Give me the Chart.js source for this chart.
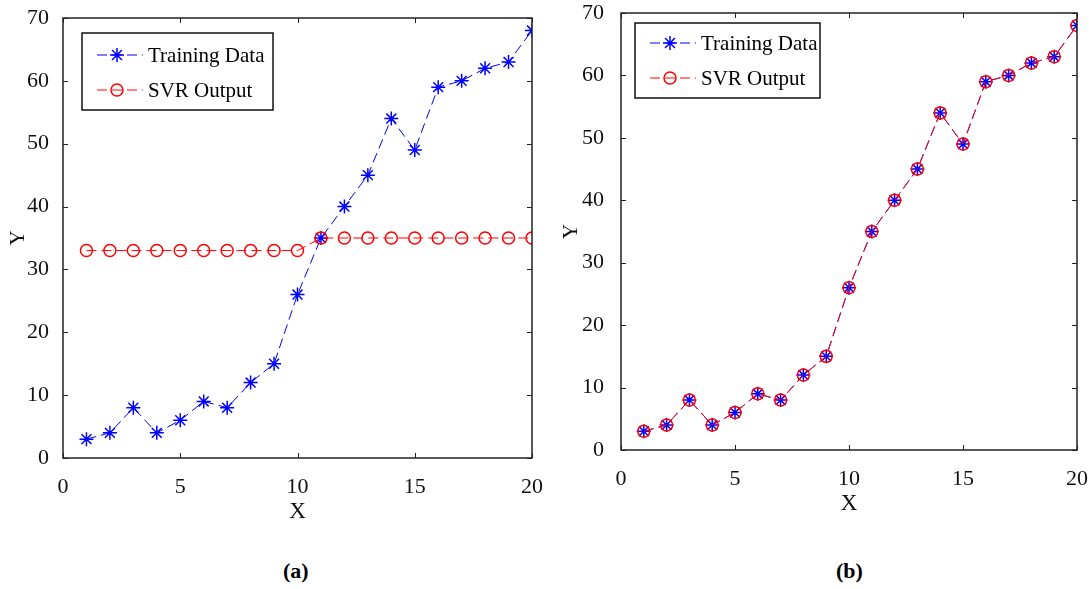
<!DOCTYPE html>
<html>
<head>
<meta charset="utf-8">
<script src="https://cdn.jsdelivr.net/npm/chart.js@4.4.0/dist/chart.umd.min.js"></script>
<style>
  body { margin: 0; background: #fff; width: 1089px; height: 589px; position: relative; overflow: hidden; }
  .box { position: absolute; top: 0; }
  .cap { position: absolute; top: 558px; font: bold 22px 'Liberation Serif', serif; color: #000; }
</style>
</head>
<body>
<div class="box" style="left:0;width:545px;height:530px"><canvas id="chart-a"></canvas></div>
<div class="box" style="left:545px;width:544px;height:522px"><canvas id="chart-b"></canvas></div>
<div class="cap" style="left:283px">(a)</div>
<div class="cap" style="left:836px">(b)</div>
<script>
var xValues = [1,2,3,4,5,6,7,8,9,10,11,12,13,14,15,16,17,18,19,20];
var trainingY = [3,4,8,4,6,9,8,12,15,26,35,40,45,54,49,59,60,62,63,68];
var svrOutA = [33,33,33,33,33,33,33,33,33,33,35,35,35,35,35,35,35,35,35,35];
var svrOutB = [3,4,8,4,6,9,8,12,15,26,35,40,45,54,49,59,60,62,63,68];
var xTicks = [0,5,10,15,20];
var yTicks = [0,10,20,30,40,50,60,70];

var serif = "'Liberation Serif', 'Times New Roman', serif";
var dash = [10,5];

function punti(ys) {
    var out = [];
    for (var i = 0; i < xValues.length; i++) {
        out.push({x: xValues[i], y: ys[i]});
    }
    return out;
}

// frame round the plot area plus inward ticks on all four sides
var cornice = {
    id: 'cornice',
    afterDraw: function(chart) {
        var ctx = chart.ctx, a = chart.chartArea;
        var sx = chart.scales.x, sy = chart.scales.y;
        ctx.save();
        ctx.strokeStyle = '#222';
        ctx.lineWidth = 1.5;
        ctx.strokeRect(a.left, a.top, a.right - a.left, a.bottom - a.top);
        ctx.lineWidth = 1;
        ctx.beginPath();
        xTicks.forEach(function(v) {
            var px = Math.round(sx.getPixelForValue(v)) + 0.5;
            ctx.moveTo(px, a.bottom); ctx.lineTo(px, a.bottom - 5);
            ctx.moveTo(px, a.top); ctx.lineTo(px, a.top + 5);
        });
        yTicks.forEach(function(v) {
            var py = Math.round(sy.getPixelForValue(v)) + 0.5;
            ctx.moveTo(a.left, py); ctx.lineTo(a.left + 5, py);
            ctx.moveTo(a.right, py); ctx.lineTo(a.right - 5, py);
        });
        ctx.stroke();
        ctx.restore();
    }
};

// boxed legend inside the plot, MATLAB style
var legenda = {
    id: 'legenda',
    afterDraw: function(chart, args, opt) {
        var ctx = chart.ctx, a = chart.chartArea;
        var x0 = a.left + opt.dx, y0 = a.top + opt.dy;
        ctx.save();
        ctx.fillStyle = '#fff';
        ctx.fillRect(x0, y0, opt.w, opt.h);
        ctx.strokeStyle = '#111';
        ctx.lineWidth = 1.5;
        ctx.strokeRect(x0, y0, opt.w, opt.h);
        chart.data.datasets.forEach(function(ds, i) {
            var yy = y0 + opt.row0 + i * opt.step;
            var xa = x0 + 15, xb = x0 + 61, xm = x0 + 35;
            ctx.strokeStyle = ds.borderColor;
            ctx.lineWidth = 1;
            ctx.setLineDash(dash);
            ctx.beginPath();
            ctx.moveTo(xa, yy); ctx.lineTo(xb, yy);
            ctx.stroke();
            ctx.setLineDash([]);
            ctx.strokeStyle = ds.pointBorderColor;
            ctx.fillStyle = 'rgba(0,0,0,0)';
            ctx.lineWidth = ds.pointBorderWidth;
            Chart.helpers.drawPoint(ctx, {
                pointStyle: ds.pointStyle,
                radius: ds.pointRadius,
                borderWidth: ds.pointBorderWidth,
                rotation: 0
            }, xm, yy);
            ctx.fillStyle = '#000';
            ctx.font = '21px ' + serif;
            ctx.textBaseline = 'middle';
            ctx.fillText(ds.label, x0 + 66, yy + 1);
        });
        ctx.restore();
    }
};

function serie(label, ys, colore, stile, raggio, ordine) {
    return {
        label: label,
        data: punti(ys),
        borderColor: colore,
        borderWidth: 1,
        borderDash: dash,
        pointStyle: stile,
        pointRadius: raggio,
        pointBorderColor: colore,
        pointBackgroundColor: 'rgba(0,0,0,0)',
        pointBorderWidth: 1.5,
        fill: false,
        tension: 0,
        order: ordine
    };
}

function stampaGrafico(id, svr, areaLeft, areaTop, padRight, yPad, titlePad, leg) {
    var ctx = document.getElementById(id);
    return new Chart(ctx, {
        type: 'line',
        data: {
            datasets: [
                serie('Training Data', trainingY, '#0000ff', 'star', 7, 2),
                serie('SVR Output', svr, '#ff0000', 'circle', 6, 1)
            ]
        },
        options: {
            responsive: true,
            maintainAspectRatio: false,
            animation: false,
            layout: { padding: { top: areaTop, right: padRight, left: 0, bottom: 0 } },
            scales: {
                x: {
                    type: 'linear', min: 0, max: 20,
                    afterBuildTicks: function(s) { s.ticks = xTicks.map(function(v) { return {value: v}; }); },
                    afterFit: function(s) { s.height = 72; s.paddingLeft = 0; s.paddingRight = 0; },
                    grid: { display: false },
                    border: { display: false },
                    ticks: { color: '#111', padding: 8, font: { family: serif, size: 22 }, maxRotation: 0 },
                    title: { display: true, text: 'X', color: '#111', padding: { top: 0, bottom: 4 }, font: { family: serif, size: 23 } }
                },
                y: {
                    min: 0, max: 70,
                    afterBuildTicks: function(s) { s.ticks = yTicks.map(function(v) { return {value: v}; }); },
                    afterFit: function(s) { s.width = areaLeft; s.paddingTop = 0; s.paddingBottom = 0; },
                    grid: { display: false },
                    border: { display: false },
                    ticks: { color: '#111', padding: yPad, font: { family: serif, size: 22 } },
                    title: { display: true, text: 'Y', color: '#111', padding: { top: titlePad, bottom: 0 }, font: { family: serif, size: 21 } }
                }
            },
            plugins: {
                legend: { display: false },
                tooltip: { enabled: false },
                legenda: leg
            }
        },
        plugins: [cornice, legenda]
    });
}

stampaGrafico('chart-a', svrOutA, 63, 18, 13, 6, 6, { dx: 19, dy: 15, w: 191, h: 77, row0: 22, step: 35 });
stampaGrafico('chart-b', svrOutB, 76, 13, 12, 9, 14, { dx: 14, dy: 10, w: 185, h: 75, row0: 20, step: 35 });
</script>
</body>
</html>
